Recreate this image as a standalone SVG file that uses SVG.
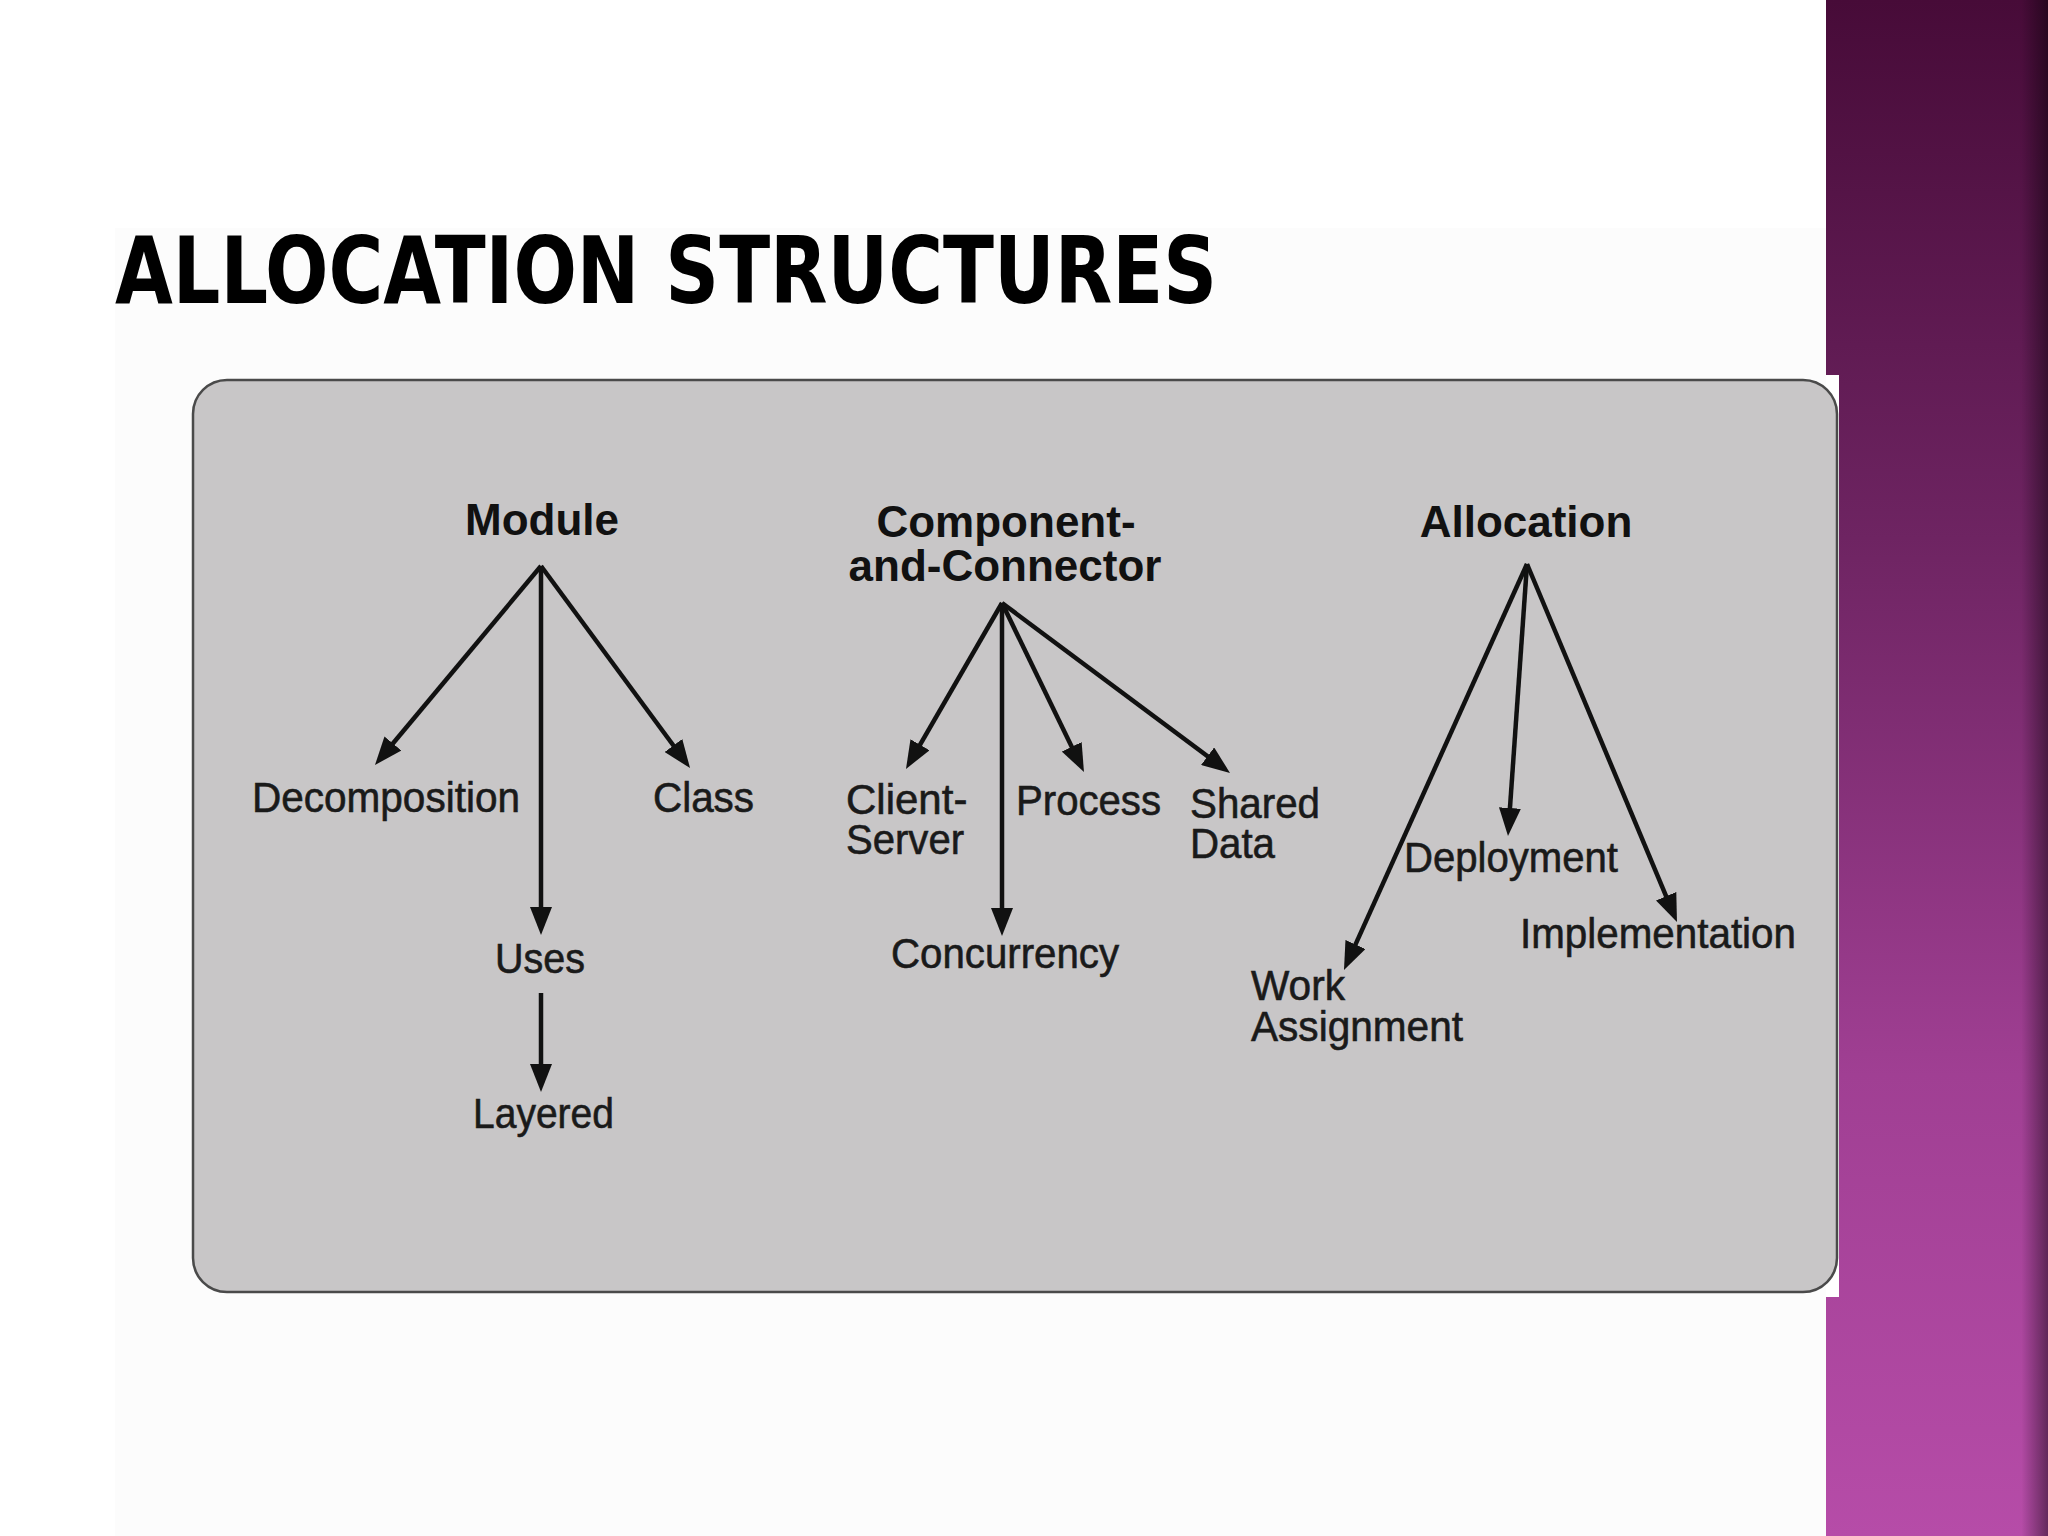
<svg xmlns="http://www.w3.org/2000/svg" width="2048" height="1536" viewBox="0 0 2048 1536">
<defs>
<linearGradient id="purple" x1="0" y1="0" x2="0" y2="1">
<stop offset="0" stop-color="#470b38"/>
<stop offset="0.35" stop-color="#6e2462"/>
<stop offset="0.7" stop-color="#a03f93"/>
<stop offset="1" stop-color="#b64ca8"/>
</linearGradient>
<linearGradient id="edge" x1="0" y1="0" x2="1" y2="0">
<stop offset="0" stop-color="#000" stop-opacity="0"/>
<stop offset="0.88" stop-color="#000" stop-opacity="0"/>
<stop offset="1" stop-color="#000" stop-opacity="0.45"/>
</linearGradient>
<marker id="arr" viewBox="0 0 28 22" refX="18" refY="11" markerWidth="28" markerHeight="22" markerUnits="userSpaceOnUse" orient="auto">
<path d="M0,0 L28,11 L0,22 z" fill="#111"/>
</marker>
</defs>
<style>
.lbl{font-family:"Liberation Sans",Arial,sans-serif;font-size:42px;fill:#1a1a1a;stroke:#1a1a1a;stroke-width:0.6px;text-anchor:start}
.hdr{font-family:"Liberation Sans",Arial,sans-serif;font-size:44px;font-weight:bold;fill:#111;text-anchor:middle}
.con{stroke:#111;stroke-width:4.5;fill:none;marker-end:url(#arr)}
</style>
<rect x="0" y="0" width="2048" height="1536" fill="#ffffff"/>
<rect x="115" y="228" width="1711" height="1308" fill="#fcfcfc"/>
<g id="sidebar">
<rect x="1826" y="0" width="222" height="1536" fill="url(#purple)"/>
<rect x="1826" y="0" width="222" height="1536" fill="url(#edge)"/>
<rect x="1826" y="375" width="13" height="922" fill="#ffffff"/>
</g>
<text id="title" x="115" y="303" font-family="'DejaVu Sans Condensed','DejaVu Sans',sans-serif" font-weight="bold" font-size="93" textLength="1102" lengthAdjust="spacingAndGlyphs" fill="#000">ALLOCATION STRUCTURES</text>
<g id="panel">
<rect x="193" y="380" width="1644" height="912" rx="34" ry="34" fill="#c8c6c7" stroke="#4a4a4a" stroke-width="2.5"/>
</g>
<g id="connectors">
<line class="con" x1="541" y1="566" x2="381.4" y2="757.3"/>
<line class="con" x1="541" y1="566" x2="541" y2="925"/>
<line class="con" x1="541" y1="566" x2="684.1" y2="760"/>
<line class="con" x1="541" y1="993" x2="541" y2="1082"/>
<line class="con" x1="1002" y1="603" x2="911" y2="760.3"/>
<line class="con" x1="1002" y1="603" x2="1002" y2="926"/>
<line class="con" x1="1002" y1="603" x2="1079.6" y2="763"/>
<line class="con" x1="1002" y1="603" x2="1222" y2="767"/>
<line class="con" x1="1527" y1="564" x2="1348.1" y2="960.9"/>
<line class="con" x1="1527" y1="564" x2="1508.7" y2="826"/>
<line class="con" x1="1527" y1="564" x2="1673.1" y2="912.8"/>
</g>
<g id="module"><text class="hdr" x="542" y="535">Module</text></g>
<g id="decomposition"><text class="lbl" x="252" y="812" textLength="268" lengthAdjust="spacingAndGlyphs">Decomposition</text></g>
<g id="class"><text class="lbl" x="653" y="812" textLength="101" lengthAdjust="spacingAndGlyphs">Class</text></g>
<g id="uses"><text class="lbl" x="495" y="973" textLength="90" lengthAdjust="spacingAndGlyphs">Uses</text></g>
<g id="layered"><text class="lbl" x="473" y="1128" textLength="141" lengthAdjust="spacingAndGlyphs">Layered</text></g>
<g id="cc"><text class="hdr" x="1006" y="537">Component-</text><text class="hdr" x="1005" y="581">and-Connector</text></g>
<g id="client-server"><text class="lbl" x="846" y="814">Client-</text><text class="lbl" x="846" y="854" textLength="118" lengthAdjust="spacingAndGlyphs">Server</text></g>
<g id="process"><text class="lbl" x="1016" y="815" textLength="145" lengthAdjust="spacingAndGlyphs">Process</text></g>
<g id="shared-data"><text class="lbl" x="1190" y="818" textLength="130" lengthAdjust="spacingAndGlyphs">Shared</text><text class="lbl" x="1190" y="858" textLength="85" lengthAdjust="spacingAndGlyphs">Data</text></g>
<g id="concurrency"><text class="lbl" x="891" y="968" textLength="228" lengthAdjust="spacingAndGlyphs">Concurrency</text></g>
<g id="allocation"><text class="hdr" x="1526" y="537">Allocation</text></g>
<g id="deployment"><text class="lbl" x="1404" y="872" textLength="214" lengthAdjust="spacingAndGlyphs">Deployment</text></g>
<g id="implementation"><text class="lbl" x="1520" y="948" textLength="276" lengthAdjust="spacingAndGlyphs">Implementation</text></g>
<g id="work-assignment"><text class="lbl" x="1251" y="1000" textLength="94" lengthAdjust="spacingAndGlyphs">Work</text><text class="lbl" x="1251" y="1041" textLength="212" lengthAdjust="spacingAndGlyphs">Assignment</text></g>
</svg>
